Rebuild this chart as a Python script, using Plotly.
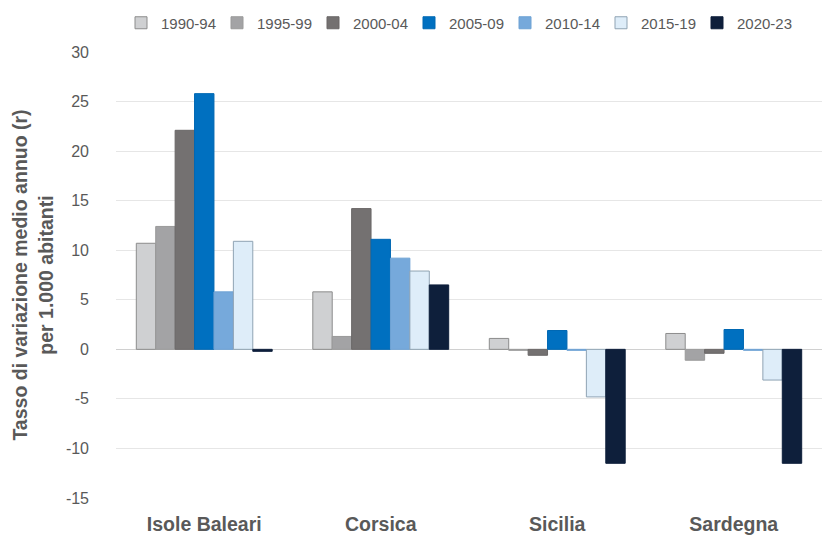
import plotly.graph_objects as go

# Islands and five-year periods
islands = ["Isole Baleari", "Corsica", "Sicilia", "Sardegna"]
periods = ["1990-94", "1995-99", "2000-04", "2005-09", "2010-14", "2015-19", "2020-23"]

# Average annual rate of change per 1,000 inhabitants, one list per period
r_1990_94 = [10.7, 5.8, 1.1, 1.6]
r_1995_99 = [12.4, 1.3, -0.1, -1.1]
r_2000_04 = [22.1, 14.2, -0.6, -0.4]
r_2005_09 = [25.8, 11.1, 1.9, 2.0]
r_2010_14 = [5.8, 9.2, -0.1, -0.1]
r_2015_19 = [10.9, 7.9, -4.8, -3.1]
r_2020_23 = [-0.2, 6.5, -11.5, -11.5]

# Y axis ticks (plain hyphen for negatives)
y_ticks = [-15, -10, -5, 0, 5, 10, 15, 20, 25, 30]
y_tick_labels = ["-15", "-10", "-5", "0", "5", "10", "15", "20", "25", "30"]

series = [r_1990_94, r_1995_99, r_2000_04, r_2005_09, r_2010_14, r_2015_19, r_2020_23]
fills = ["#cfd0d2", "#a3a3a5", "#747171", "#0070c0", "#76a9db", "#deedf9", "#0e1f3b"]
edges = ["#8c8c8c", "#9a9a9a", "#6a6767", "#0068b3", "#6ea2d4", "#8fa3b3", "#0e1f3b"]

TEXT = "#595959"

fig = go.Figure()
for name, vals, fc, ec in zip(periods, series, fills, edges):
    fig.add_trace(go.Bar(
        x=islands, y=vals, name=name,
        marker=dict(color=fc, line=dict(color=ec, width=1)),
    ))

fig.update_layout(
    width=822, height=537,
    margin=dict(l=116, r=0, t=52, b=39, autoexpand=False),
    paper_bgcolor="white", plot_bgcolor="white",
    barmode="group", bargap=0.23, bargroupgap=0,
    font=dict(family="Liberation Sans, Arial, sans-serif", color=TEXT, size=14),
    legend=dict(
        orientation="h", xref="container", yref="container",
        x=121 / 822, y=1 - 23 / 537, xanchor="left", yanchor="middle",
        font=dict(size=15, color=TEXT),
        itemwidth=30, entrywidth=51, entrywidthmode="pixels",
    ),
    showlegend=True,
)

fig.update_xaxes(
    showgrid=False, showline=False, ticks="", ticklabelstandoff=12,
    tickfont=dict(family="Liberation Sans, Arial, sans-serif", size=19.5, color=TEXT, weight="bold"),
)
fig.update_yaxes(
    range=[-15, 30], tickvals=y_ticks, ticktext=y_tick_labels,
    showgrid=True, gridcolor="#e6e6e6", gridwidth=1,
    zeroline=True, zerolinecolor="#d0d0d0", zerolinewidth=1,
    showline=False, ticks="", ticklabelstandoff=26,
    tickfont=dict(size=16, color=TEXT),
    title=dict(
        text="<b>Tasso di variazione medio annuo (r)<br>per 1.000 abitanti</b>",
        font=dict(size=19.5, color=TEXT), standoff=7,
    ),
)

fig.write_html("out.html")
